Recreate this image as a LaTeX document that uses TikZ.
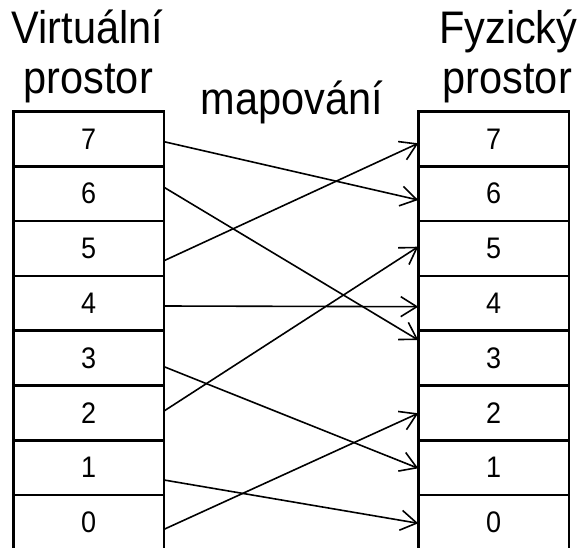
\documentclass[tikz,border=0pt]{standalone}
\usepackage{fontspec}
\setmainfont{Liberation Sans}
\usetikzlibrary{arrows.meta}
\begin{document}
\begin{tikzpicture}[x=1pt,y=-1pt,
  cell/.style={draw, line width=2.7pt, rectangle, outer sep=0pt, inner sep=0pt,
    minimum width=150.7pt, minimum height=54.8pt,
    font=\fontsize{27}{31}\selectfont},
  heading/.style={anchor=base, inner sep=0pt, font=\fontsize{41.5}{48}\selectfont},
  map/.style={line width=1.6pt, -{Straight Barb[length=16pt,width=20pt,line width=1.6pt]}}]
\useasboundingbox (0,0) rectangle (583,548);

% column headings and label between columns
\node[heading] (vt1) at (87.5,43.3) {\scalebox{1}[1.1]{Virtuální}};
\node[heading] (vt2) at (88.3,93.3) {\scalebox{1}[1.1]{prostor}};
\node[heading] (ft1) at (508.3,43.3) {\scalebox{1}[1.1]{Fyzický}};
\node[heading] (ft2) at (507.3,93.3) {\scalebox{1}[1.1]{prostor}};
\node[heading] (mp) at (291.7,115) {\scalebox{1}[1.1]{mapování}};

% page cells: virtual (left) and physical (right)
\foreach \k in {7,...,0} {
  \pgfmathsetmacro{\yc}{111.5+(7-\k)*54.8+27.4}
  \node[cell] (v\k) at (88.7,\yc) {\scalebox{1}[1.1]{\k}};
  \node[cell] (p\k) at (493.6,\yc) {\scalebox{1}[1.1]{\k}};
}

% page mapping
\draw[map] ([yshift=-2.8pt]v7.east) -- ([yshift=-6.3pt]p6.west);
\draw[map] ([yshift=6.4pt]v6.east) -- ([yshift=18.1pt]p3.west);
\draw[map] ([yshift=-12.2pt]v5.east) -- ([yshift=-4.4pt]p7.west);
\draw[map] ([yshift=-2.7pt]v4.east) -- ([yshift=-3.4pt]p4.west);
\draw[map] ([yshift=-8.6pt]v3.east) -- ([yshift=-0.6pt]p1.west);
\draw[map] ([yshift=1.9pt]v2.east) -- ([yshift=1.8pt]p5.west);
\draw[map] ([yshift=-12.3pt]v1.east) -- ([yshift=-0.8pt]p0.west);
\draw[map] ([yshift=-6.8pt]v0.east) -- ([yshift=-0.4pt]p2.west);
\end{tikzpicture}
\end{document}
